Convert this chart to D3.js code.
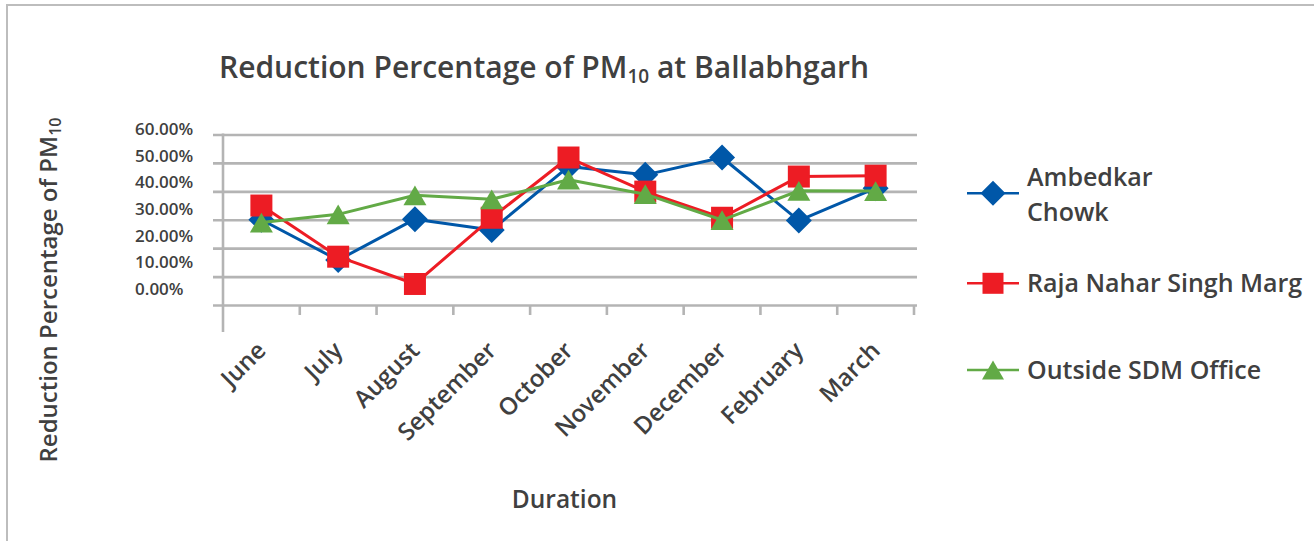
<!DOCTYPE html>
<html>
<head>
<meta charset="utf-8">
<script src="https://cdn.jsdelivr.net/npm/d3@7"></script>
<style>
  html,body{margin:0;padding:0;background:#fff;}
  text{font-family:"Open Sans","Noto Sans",sans-serif;fill:#404040;font-weight:600;}
</style>
</head>
<body>
<div id="chart"></div>
<script>
/* Reduction percentage of PM10 at Ballabhgarh: three monitoring sites, line + marker series */
var months=["June","July","August","September","October","November","December","February","March"];
var ambedkar=[0.300,0.158,0.302,0.264,0.487,0.458,0.519,0.297,0.411];
var rajaNahar=[0.350,0.170,0.074,0.307,0.519,0.399,0.307,0.452,0.455];
var outsideSdm=[0.290,0.319,0.386,0.372,0.441,0.390,0.299,0.402,0.401];
var seriesNames=[["Ambedkar","Chowk"],["Raja Nahar Singh Marg"],["Outside SDM Office"]];
var yTicks=[0,0.1,0.2,0.3,0.4,0.5,0.6];

var W=1314,H=541;
var svg=d3.select("#chart").append("svg").attr("width",W).attr("height",H);

/* chart frame (runs off the right and bottom edges) */
svg.append("rect").attr("x",7).attr("y",5).attr("width",W+20).attr("height",H+20)
    .attr("fill","#fff").attr("stroke","#BDBDBD").attr("stroke-width",2);

var L=223,R=914,T=134.5,B=305;
var x=d3.scaleBand().domain(months).range([L,R]).padding(0);
var y=d3.scaleLinear().domain([0,0.6]).range([B,T]);
var yLab=d3.scaleLinear().domain([0,0.6]).range([295,135]);
var cx=function(m){return x(m)+x.bandwidth()/2;};

/* gridlines incl. outward ticks */
var grid=svg.append("g").attr("transform","translate("+(L-10)+",0)")
    .call(d3.axisLeft(y).tickValues(yTicks).tickSize(-(R-L+13)).tickSizeOuter(0).tickFormat(""));
grid.select(".domain").remove();
grid.selectAll("line").attr("stroke","#B4B4B4").attr("stroke-width",2.6);

/* y tick labels */
svg.append("g").selectAll("text").data(yTicks).enter().append("text")
    .attr("x",135).attr("y",function(d){return yLab(d);})
    .style("font-size","17px").text(function(d){return d3.format(".2%")(d);});

/* left axis line and category tick marks */
svg.append("line").attr("x1",L).attr("x2",L).attr("y1",T-1).attr("y2",332)
    .attr("stroke","#B4B4B4").attr("stroke-width",2.6);
svg.append("g").selectAll("line").data(months).enter().append("line")
    .attr("x1",function(d){return x(d)+x.bandwidth();}).attr("x2",function(d){return x(d)+x.bandwidth();})
    .attr("y1",B).attr("y2",B+10).attr("stroke","#B4B4B4").attr("stroke-width",2.6);

/* month labels */
svg.append("g").selectAll("text").data(months).enter().append("text")
    .attr("transform",function(d){return "translate("+(cx(d)+6)+",352) rotate(-45)";})
    .attr("text-anchor","end").style("font-size","24px").text(function(d){return d;});

/* series */
var diamond={draw:function(c,s){var h=s/2;c.moveTo(0,-h);c.lineTo(h,0);c.lineTo(0,h);c.lineTo(-h,0);c.closePath();}};
var square={draw:function(c,s){var h=s/2;c.rect(-h,-h,s,s);}};
var triangle={draw:function(c,s){var h=s*0.43;c.moveTo(0,-h);c.lineTo(s/2,h);c.lineTo(-s/2,h);c.closePath();}};
var series=[
    {vals:ambedkar,color:"#0057A8",shape:diamond,size:26},
    {vals:rajaNahar,color:"#ED1C24",shape:square,size:22},
    {vals:outsideSdm,color:"#62AA46",shape:triangle,size:23}
];
var line=d3.line().x(function(d,i){return cx(months[i]);}).y(function(d){return y(d);});
series.forEach(function(s){
    var g=svg.append("g");
    g.append("path").datum(s.vals).attr("d",line).attr("fill","none")
        .attr("stroke",s.color).attr("stroke-width",3).attr("stroke-linejoin","round");
    g.selectAll("path.mk").data(s.vals).enter().append("path").attr("class","mk")
        .attr("transform",function(d,i){return "translate("+cx(months[i])+","+y(d)+")";})
        .attr("d",d3.symbol().type(s.shape).size(s.size)).attr("fill",s.color);
});

/* legend */
var legY=[193.3,283.3,370];
series.forEach(function(s,i){
    var g=svg.append("g").attr("transform","translate(967,"+legY[i]+")");
    g.append("line").attr("x1",0).attr("x2",52).attr("stroke",s.color).attr("stroke-width",2.5);
    g.append("path").attr("transform","translate(26,0)").attr("d",d3.symbol().type(s.shape).size(s.size-1)).attr("fill",s.color);
    var lines=seriesNames[i];
    var t=g.append("text").attr("x",60).style("font-size","25px");
    lines.forEach(function(l,k){
        t.append("tspan").attr("x",60).attr("y",lines.length>1?(k===0?-7.5:27.5):8.5).text(l);
    });
});

/* titles */
var title=svg.append("text").attr("x",219).attr("y",78).style("font-size","30px");
title.append("tspan").text("Reduction Percentage of PM");
title.append("tspan").attr("dy",5).style("font-size","19px").text("10");
title.append("tspan").attr("dy",-5).text(" at Ballabhgarh");

var yt=svg.append("text").attr("transform","translate(57,290) rotate(-90)").attr("text-anchor","middle").style("font-size","24px");
yt.append("tspan").text("Reduction Percentage of PM");
yt.append("tspan").attr("dy",4).style("font-size","16px").text("10");

svg.append("text").attr("x",564.5).attr("y",508).attr("text-anchor","middle").style("font-size","24.5px").text("Duration");
</script>
</body>
</html>
